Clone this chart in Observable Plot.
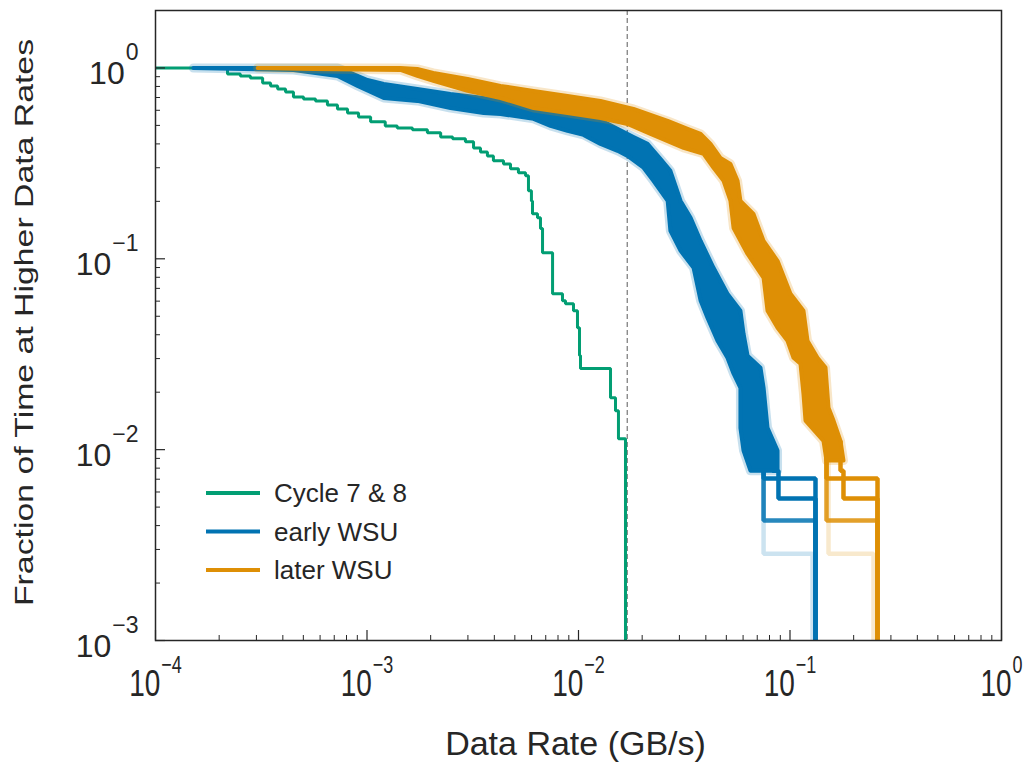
<!DOCTYPE html>
<html><head><meta charset="utf-8">
<script src="https://cdn.jsdelivr.net/npm/d3@7"></script>
<script src="https://cdn.jsdelivr.net/npm/@observablehq/plot@0.6"></script>
<style>
html,body{margin:0;padding:0;background:#fff;}
#chart svg{display:block;}
</style></head><body><div id="chart"></div>
<script>
// ---------- data ----------
// Cycle 7 & 8 : step CCDF (last value < 1e-3 = drop to zero, off the axis)
const cycleRate = [1e-4, 2.19e-4, 2.52e-4, 2.81e-4, 3.21e-4, 3.50e-4, 3.78e-4, 4.12e-4, 4.49e-4, 5.01e-4, 5.71e-4, 6.50e-4, 7.25e-4, 8.09e-4, 9.12e-4, 1.04e-3, 1.22e-3, 1.39e-3, 1.64e-3, 1.93e-3, 2.23e-3, 2.54e-3, 2.92e-3, 3.19e-3, 3.44e-3, 3.71e-3, 3.96e-3, 4.42e-3, 4.77e-3, 5.20e-3, 5.62e-3, 5.80e-3, 5.99e-3, 6.06e-3, 6.40e-3, 6.61e-3, 6.76e-3, 7.54e-3, 8.40e-3, 8.68e-3, 9.47e-3, 9.89e-3, 1.011e-2, 1.022e-2, 1.417e-2, 1.496e-2, 1.545e-2, 1.668e-2];
const cycleFrac = [1, 0.930, 0.908, 0.886, 0.835, 0.805, 0.776, 0.749, 0.705, 0.688, 0.672, 0.640, 0.610, 0.581, 0.554, 0.522, 0.497, 0.485, 0.474, 0.457, 0.435, 0.425, 0.410, 0.381, 0.363, 0.346, 0.326, 0.314, 0.296, 0.282, 0.272, 0.227, 0.201, 0.172, 0.164, 0.144, 0.1075, 0.0656, 0.0603, 0.0581, 0.0534, 0.0435, 0.0311, 0.0266, 0.0187, 0.0160, 0.0114, 1e-5];

// early WSU : ensemble envelope (upper and lower CCDF bounds)
const earlyUpperRate = [1.51e-4, 4.49e-4, 7.25e-4, 8.36e-4, 1.005e-3, 1.20e-3, 1.73e-3, 2.48e-3, 3.56e-3, 5.15e-3, 7.37e-3, 8.87e-3, 1.27e-2, 1.82e-2, 2.12e-2, 2.44e-2, 2.72e-2, 3.04e-2, 3.39e-2, 3.78e-2, 4.35e-2, 5.06e-2, 5.83e-2, 6.03e-2, 6.30e-2, 7.25e-2, 7.50e-2, 7.83e-2, 8.73e-2, 8.73e-2];
const earlyUpperFrac = [1, 1, 1, 0.942, 0.865, 0.825, 0.776, 0.731, 0.696, 0.656, 0.617, 0.596, 0.534, 0.435, 0.400, 0.334, 0.289, 0.201, 0.164, 0.124, 0.0897, 0.0656, 0.0534, 0.0405, 0.0311, 0.0269, 0.0211, 0.0130, 0.00988, 0.00776];
const earlyLowerRate = [1.51e-4, 4.49e-4, 7.25e-4, 9.02e-4, 1.20e-3, 1.73e-3, 2.48e-3, 3.56e-3, 4.28e-3, 6.13e-3, 7.37e-3, 8.87e-3, 1.056e-2, 1.27e-2, 1.53e-2, 1.705e-2, 2.03e-2, 2.26e-2, 2.64e-2, 2.72e-2, 3.04e-2, 3.50e-2, 3.78e-2, 4.07e-2, 4.54e-2, 5.06e-2, 5.41e-2, 5.83e-2, 5.83e-2, 6.03e-2, 6.50e-2];
const earlyLowerFrac = [1, 0.976, 0.908, 0.805, 0.696, 0.672, 0.617, 0.581, 0.574, 0.541, 0.497, 0.468, 0.446, 0.400, 0.368, 0.346, 0.300, 0.256, 0.201, 0.140, 0.110, 0.0897, 0.0603, 0.0491, 0.0372, 0.0303, 0.0250, 0.0211, 0.0130, 0.00988, 0.00776];
// early WSU : individual realisations in the tail
const earlyTailRates = [[0.0725, 0.0750, 0.1320], [0.0791, 0.0827, 0.0882, 0.1320], [0.0725, 0.0750, 0.1320], [0.0725, 0.0750, 0.1278]];
const earlyTailFracs = [[0.0111, 0.00705, 1e-5], [0.0111, 0.00776, 0.00554, 1e-5], [0.0111, 0.00425, 1e-5], [0.0111, 0.00285, 1e-5]];

// later WSU
const laterUpperRate = [3.04e-4, 1.44e-3, 1.73e-3, 2.06e-3, 2.99e-3, 4.28e-3, 6.13e-3, 8.87e-3, 1.27e-2, 1.82e-2, 2.64e-2, 3.28e-2, 3.78e-2, 4.21e-2, 4.69e-2, 5.23e-2, 5.65e-2, 5.83e-2, 6.72e-2, 7.50e-2, 8.73e-2, 0.1005, 0.1158, 0.1210, 0.1349, 0.1472, 0.1521, 0.1606, 0.1733, 0.1790];
const laterUpperFrac = [1, 1, 0.988, 0.942, 0.876, 0.805, 0.758, 0.713, 0.672, 0.610, 0.528, 0.479, 0.451, 0.400, 0.338, 0.314, 0.256, 0.201, 0.172, 0.124, 0.0976, 0.0656, 0.0534, 0.0372, 0.0303, 0.0269, 0.0166, 0.0142, 0.0111, 0.00876];
const laterLowerRate = [3.04e-4, 5.59e-4, 1.44e-3, 1.73e-3, 2.06e-3, 2.99e-3, 4.28e-3, 6.13e-3, 8.87e-3, 1.27e-2, 1.705e-2, 2.19e-2, 3.14e-2, 3.90e-2, 4.35e-2, 4.85e-2, 5.23e-2, 5.41e-2, 6.30e-2, 7.50e-2, 7.83e-2, 8.73e-2, 9.73e-2, 0.1039, 0.1121, 0.1158, 0.1184, 0.1440, 0.1488];
const laterLowerFrac = [1, 0.988, 0.976, 0.908, 0.855, 0.758, 0.696, 0.617, 0.581, 0.547, 0.509, 0.451, 0.381, 0.355, 0.300, 0.256, 0.201, 0.145, 0.106, 0.0795, 0.0534, 0.0435, 0.0372, 0.0303, 0.0282, 0.0196, 0.0142, 0.0111, 0.00876];
const laterTailRates = [[0.1440, 0.1488, 0.2593], [0.1554, 0.1733, 0.1790, 0.2593], [0.1440, 0.1488, 0.2593], [0.1440, 0.1521, 0.2482]];
const laterTailFracs = [[0.0111, 0.00705, 1e-5], [0.0111, 0.00776, 0.00554, 1e-5], [0.0111, 0.00425, 1e-5], [0.0111, 0.00285, 1e-5]];
const tailOpacity = [1, 1, 0.85, 0.2];

const thresholdRate = [0.0170];

const seriesNames = ["Cycle 7 & 8", "early WSU", "later WSU"];
const seriesColors = ["#029E73", "#0173B2", "#DE8F05"];

const xMajorTicks = [1e-4, 1e-3, 1e-2, 1e-1, 1];
const xTickLabels = ["10^\u22124", "10^\u22123", "10^\u22122", "10^\u22121", "10^0"];
const yMajorTicks = [1e-3, 1e-2, 1e-1, 1];
const yTickLabels = ["10^\u22123", "10^\u22122", "10^\u22121", "10^0"];
const xTitle = "Data Rate (GB/s)";
const yTitle = "Fraction of Time at Higher Data Rates";

// ---------- build tables ----------
const zipRF = (r, f) => r.map((d, i) => ({rate: d, frac: f[i]}));
const cycleData = zipRF(cycleRate, cycleFrac);
const earlyPoly = zipRF(earlyUpperRate, earlyUpperFrac).concat(zipRF(earlyLowerRate, earlyLowerFrac).reverse());
const laterPoly = zipRF(laterUpperRate, laterUpperFrac).concat(zipRF(laterLowerRate, laterLowerFrac).reverse());
const minorOf = (lo, hi) => { const out = []; for (let e = lo; e < hi; e++) for (let m = 2; m <= 9; m++) out.push(m * Math.pow(10, e)); return out; };
const xMinorTicks = minorOf(-4, 0);
const yMinorTicks = minorOf(-3, 0);

const W = 1029, H = 764, mL = 155, mR = 28, mT = 10, mB = 124;
const plotW = W - mL - mR, plotH = H - mT - mB;
const ink = "#262626";

const tailMarks = (rates, fracs, color) => rates.map((r, i) => Plot.line(zipRF(r, fracs[i]), {
  x: "rate", y: "frac", curve: "step-after", stroke: color, strokeWidth: 4.5,
  strokeOpacity: tailOpacity[i], strokeLinejoin: "miter", strokeLinecap: "butt", clip: true
}));
const bandMarks = (poly, color) => [
  Plot.line(poly, {x: "rate", y: "frac", fill: "none", stroke: color, strokeWidth: 9, strokeOpacity: 0.22, clip: true}),
  Plot.line(poly, {x: "rate", y: "frac", fill: color, stroke: color, strokeWidth: 4, clip: true})
];

const chart = Plot.plot({
  width: W, height: H,
  marginLeft: mL, marginRight: mR, marginTop: mT, marginBottom: mB,
  style: {fontFamily: "'Liberation Sans', Arial, Helvetica, sans-serif", color: ink, background: "#fff", overflow: "visible"},
  x: {type: "log", domain: [1e-4, 1], axis: null},
  y: {type: "log", domain: [1e-3, 2], axis: null},
  marks: [
    Plot.ruleX(thresholdRate, {x: d => d, stroke: "#777", strokeWidth: 1.2, strokeDasharray: "5,3"}),
    Plot.line(cycleData, {x: "rate", y: "frac", curve: "step-after", stroke: seriesColors[0], strokeWidth: 3, strokeLinejoin: "miter", clip: true}),
    ...tailMarks(earlyTailRates, earlyTailFracs, seriesColors[1]),
    ...bandMarks(earlyPoly, seriesColors[1]),
    ...tailMarks(laterTailRates, laterTailFracs, seriesColors[2]),
    ...bandMarks(laterPoly, seriesColors[2]),
    // ticks (inward)
    Plot.ruleX(xMajorTicks, {x: d => d, insetTop: plotH - 10, stroke: ink, strokeWidth: 1.2}),
    Plot.ruleX(xMinorTicks, {x: d => d, insetTop: plotH - 5, stroke: ink, strokeWidth: 1}),
    Plot.ruleY(yMajorTicks, {y: d => d, insetRight: plotW - 10, stroke: ink, strokeWidth: 1.2}),
    Plot.ruleY(yMinorTicks, {y: d => d, insetRight: plotW - 5, stroke: ink, strokeWidth: 1}),
    Plot.frame({stroke: ink, strokeWidth: 1.5}),
    // tick labels (text marks #0, #1)
    Plot.text(xMajorTicks, {x: d => d, frameAnchor: "bottom", text: (d, i) => xTickLabels[i], fontSize: 28, textAnchor: "middle", lineAnchor: "middle", dy: 43}),
    Plot.text(yMajorTicks, {y: d => d, frameAnchor: "left", text: (d, i) => yTickLabels[i], fontSize: 32, textAnchor: "end", lineAnchor: "middle", dx: -17, dy: 6}),
    // axis titles (text marks #2, #3)
    Plot.text([xTitle], {frameAnchor: "bottom", text: d => d, fontSize: 34, textAnchor: "middle", lineAnchor: "middle", dx: -3, dy: 104}),
    Plot.text([yTitle], {frameAnchor: "left", text: d => d, fontSize: 26, rotate: -90, textAnchor: "middle", lineAnchor: "middle", dx: -131, dy: -3})
  ]
});

// ---------- post-process: superscripts and stretched glyphs ----------
const NS = "http://www.w3.org/2000/svg";
function addScale(el, s) {
  const t = el.getAttribute("transform") || "";
  el.setAttribute("transform", (t + " " + s).trim());
}
function superscript(el, supSize, supDy) {
  const [base, exp] = el.textContent.split("^");
  el.textContent = base;
  const ts = document.createElementNS(NS, "tspan");
  ts.setAttribute("dy", supDy);
  ts.setAttribute("font-size", supSize);
  ts.setAttribute("dx", 1);
  ts.textContent = exp;
  el.appendChild(ts);
}
const textGroups = chart.querySelectorAll('g[aria-label="text"]');
textGroups[0].querySelectorAll("text").forEach(el => {
  superscript(el, 18, -17);
  addScale(el, "scale(1,1.35)");
});
textGroups[1].querySelectorAll("text").forEach(el => superscript(el, 23, -24));
textGroups[3].querySelectorAll("text").forEach(el => addScale(el, "scale(1.3,1)"));

// ---------- legend (inside the axes, lower left) ----------
const lg = d3.select(chart).append("g")
  .attr("font-family", "'Liberation Sans', Arial, sans-serif").attr("font-size", 26)
  .attr("fill", ink).attr("text-anchor", "start");
seriesNames.forEach((name, i) => {
  const y = 493 + i * 38.5;
  lg.append("line").attr("x1", 206).attr("x2", 260).attr("y1", y).attr("y2", y)
    .attr("stroke", seriesColors[i]).attr("stroke-width", 4);
  lg.append("text").attr("x", 274).attr("y", y + 9).attr("text-anchor", "start").text(name);
});

document.getElementById("chart").appendChild(chart);
</script>
</body></html>
